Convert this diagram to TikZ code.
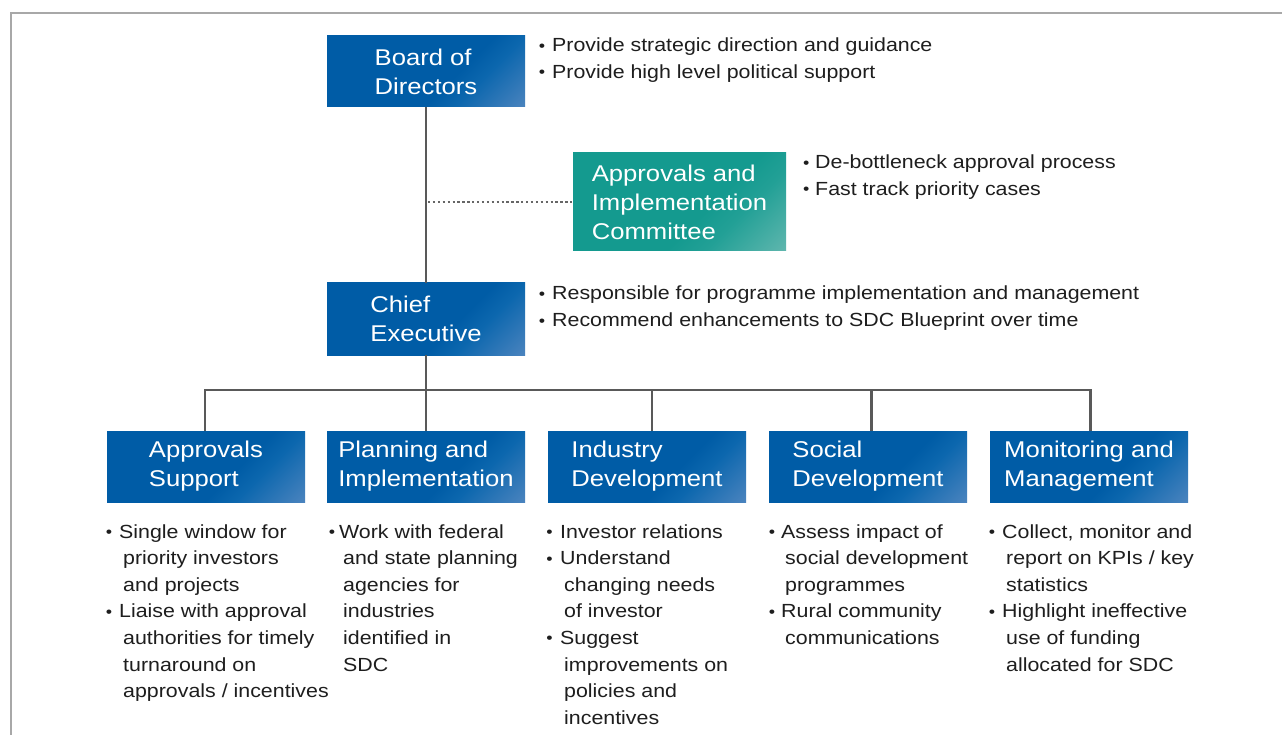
\documentclass[tikz,border=0pt]{standalone}
\usepackage{fontspec}
\setmainfont{Liberation Sans}[FakeStretch=1.125]
\usetikzlibrary{calc}
\definecolor{boxblue}{HTML}{005CA6}
\definecolor{boxbluemid}{HTML}{0C67AE}
\definecolor{boxbluelight}{HTML}{7C9ACB}
\definecolor{boxteal}{HTML}{149A8F}
\definecolor{boxtealmid}{HTML}{22A096}
\definecolor{boxteallight}{HTML}{90C8C1}
\definecolor{linegray}{HTML}{595959}
\definecolor{dotgray}{HTML}{666666}
\definecolor{framegray}{HTML}{A8A8A8}
\definecolor{txtgray}{HTML}{1E1E1E}
\pgfdeclarehorizontalshading{bluegrad}{100bp}{color(0bp)=(boxblue); color(59bp)=(boxblue); color(67bp)=(boxbluemid); color(100bp)=(boxbluelight)}
\pgfdeclarehorizontalshading{tealgrad}{100bp}{color(0bp)=(boxteal); color(58bp)=(boxteal); color(67bp)=(boxtealmid); color(100bp)=(boxteallight)}
\newcommand\bl[1][13.3]{\llap{\makebox[#1pt][l]{\raisebox{0.6pt}{\fontsize{16}{16}\selectfont •}}}}
\newcommand\cl{\hspace*{4pt}}
\begin{document}
\begin{tikzpicture}[x=1pt,y=-1pt,
  orgbox/.style={minimum width=198pt, minimum height=71pt, inner sep=0pt,
    align=left, text=white, font=\fontsize{22.8}{29}\selectfont,
    shade, shading=bluegrad, shading angle=-45},
  tealbox/.style={orgbox, minimum width=213pt, minimum height=98pt,
    shading=tealgrad, shading angle=-45},
  blist/.style={anchor=base west, inner sep=0pt, text=txtgray,
    font=\fontsize{19}{26.6}\selectfont},
  conn/.style={draw=linegray, line width=2.2pt},
  dotconn/.style={draw=dotgray, line width=2.4pt, dash pattern=on 2.3pt off 2.6pt}
]
\useasboundingbox (0,0) rectangle (1282,735);
\fill[white] (0,0) rectangle (1282,735);
\draw[framegray, line width=1.6pt] (11,735) -- (11,13) -- (1282,13);

% boxes
\node[orgbox] (board) at (426,71.5) {Board of\\Directors};
\node[tealbox] (com) at (679.5,202) {Approvals and\\Implementation\\Committee};
\node[orgbox, minimum height=72pt] (ceo) at (426,319) {Chief\\Executive};
\node[orgbox] (appr) at (206,466.5) {Approvals\\Support};
\node[orgbox] (plan) at (426,466.5) {Planning and\\Implementation};
\node[orgbox] (ind) at (647,466.5) {Industry\\Development};
\node[orgbox] (soc) at (868,466.5) {Social\\Development};
\node[orgbox] (mon) at (1089,466.5) {Monitoring and\\Management};

% connectors
\coordinate (tap) at (426,202);
\coordinate (bus) at (426,390);
\draw[conn] (board.south) -- (ceo.north);
\draw[dotconn] ([xshift=2pt]tap) -- (com.west);
\draw[conn] (ceo.south) -- (bus);
\draw[conn, line join=miter] (bus) -| ([xshift=-1pt]appr.north);
\draw[conn] (bus) -- (plan.north);
\draw[conn, line join=miter] (bus) -| ([xshift=5pt]ind.north);
\draw[conn, line join=miter] (bus) -| ([xshift=3.5pt]soc.north);
\draw[conn, line join=miter] (bus) -| ([xshift=1.5pt]mon.north);

% bullet lists
\node[blist] (board-l) at (552,52) {\begin{tabular}[t]{@{}l@{}}
\bl Provide strategic direction and guidance\\
\bl Provide high level political support\end{tabular}};
\node[blist] (com-l) at (815,169) {\begin{tabular}[t]{@{}l@{}}
\bl[12]De-bottleneck approval process\\
\bl[12]Fast track priority cases\end{tabular}};
\node[blist] (ceo-l) at (552,300) {\begin{tabular}[t]{@{}l@{}}
\bl Responsible for programme implementation and management\\
\bl Recommend enhancements to SDC Blueprint over time\end{tabular}};

\node[blist] (appr-l) at (119,538) {\begin{tabular}[t]{@{}l@{}}
\bl Single window for\\
\cl priority investors\\
\cl and projects\\
\bl Liaise with approval\\
\cl authorities for timely\\
\cl turnaround on\\
\cl approvals / incentives\end{tabular}};
\node[blist] (plan-l) at (339,538) {\begin{tabular}[t]{@{}l@{}}
\bl[10.3]Work with federal\\
\cl and state planning\\
\cl agencies for\\
\cl industries\\
\cl identified in\\
\cl SDC\end{tabular}};
\node[blist] (ind-l) at (560,538) {\begin{tabular}[t]{@{}l@{}}
\bl[13.8]Investor relations\\
\bl[13.8]Understand\\
\cl changing needs\\
\cl of investor\\
\bl[13.8]Suggest\\
\cl improvements on\\
\cl policies and\\
\cl incentives\end{tabular}};
\node[blist] (soc-l) at (781,538) {\begin{tabular}[t]{@{}l@{}}
\bl[12.3]Assess impact of\\
\cl social development\\
\cl programmes\\
\bl[12.3]Rural community\\
\cl communications\end{tabular}};
\node[blist] (mon-l) at (1002,538) {\begin{tabular}[t]{@{}l@{}}
\bl Collect, monitor and\\
\cl report on KPIs / key\\
\cl statistics\\
\bl Highlight ineffective\\
\cl use of funding\\
\cl allocated for SDC\end{tabular}};
\end{tikzpicture}
\end{document}
